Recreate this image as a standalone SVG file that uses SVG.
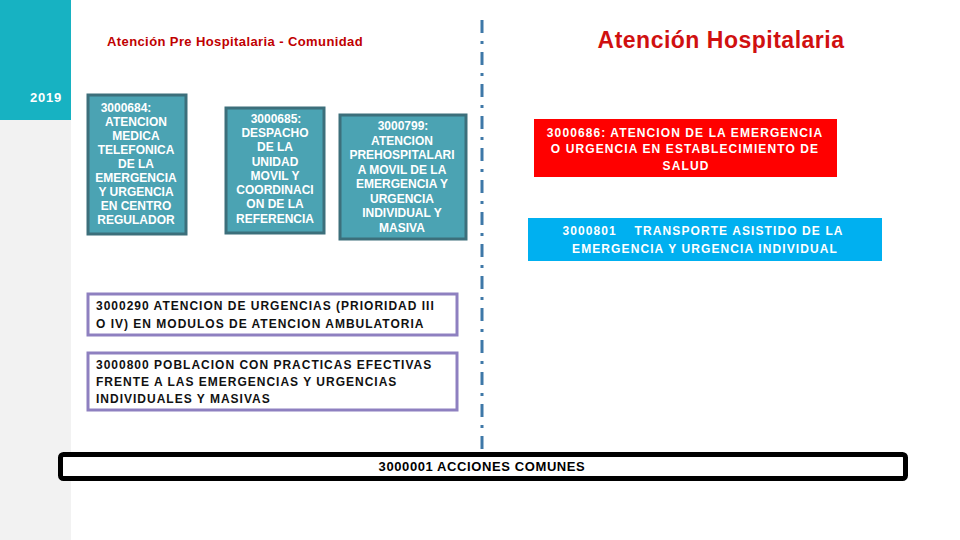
<svg xmlns="http://www.w3.org/2000/svg" width="960" height="540" viewBox="0 0 960 540">
<style>
text{font-family:"Liberation Sans",Arial,sans-serif;font-weight:bold}
.tb rect{fill:#4ba3b3;stroke:#3c6f7b;stroke-width:3}
.tb text{fill:#fff;font-size:12px;text-anchor:middle}
.pb rect{fill:#fff;stroke:#8e80c0;stroke-width:3}
.pb text{fill:#111;font-size:12px;letter-spacing:1px}
.wt{fill:#fff;font-size:12px;letter-spacing:1.1px;text-anchor:middle}
</style>
<rect width="960" height="540" fill="#fff"/>
<rect x="0" y="0" width="71" height="120" fill="#17b2c2"/>
<rect x="0" y="120" width="71" height="420" fill="#f2f2f2"/>
<text x="46" y="102" fill="#fff" font-size="13" letter-spacing="0.8" text-anchor="middle">2019</text>
<text x="107" y="46" fill="#c00000" font-size="13" letter-spacing="0.4">Atención Pre Hospitalaria - Comunidad</text>
<text x="721" y="48" fill="#d01010" font-size="23" letter-spacing="0.5" text-anchor="middle">Atención Hospitalaria</text>
<g id="connectors">
<line x1="482" y1="20" x2="482" y2="453" stroke="#3e78a8" stroke-width="3" stroke-dasharray="13 8 3 8"/>
</g>
<g id="n3000684" class="tb">
<rect x="88" y="95" width="98" height="139"/>
<text x="126" y="111.6">3000684:</text>
<text x="136" y="125.7">ATENCION</text>
<text x="136" y="139.8">MEDICA</text>
<text x="136" y="153.8">TELEFONICA</text>
<text x="136" y="167.9">DE LA</text>
<text x="136" y="182">EMERGENCIA</text>
<text x="136" y="196.1">Y URGENCIA</text>
<text x="136" y="210.2">EN CENTRO</text>
<text x="136" y="224.2">REGULADOR</text>
</g>
<g id="n3000685" class="tb">
<rect x="226" y="108" width="98" height="125"/>
<text x="276" y="122.6">3000685:</text>
<text x="275" y="136.9">DESPACHO</text>
<text x="275" y="151.2">DE LA</text>
<text x="275" y="165.5">UNIDAD</text>
<text x="275" y="179.8">MOVIL Y</text>
<text x="275" y="194.1">COORDINACI</text>
<text x="275" y="208.4">ON DE LA</text>
<text x="275" y="222.7">REFERENCIA</text>
</g>
<g id="n3000799" class="tb">
<rect x="340" y="115" width="126" height="124"/>
<text x="403" y="130">3000799:</text>
<text x="402" y="144.5">ATENCION</text>
<text x="402" y="159">PREHOSPITALARI</text>
<text x="402" y="173.5">A MOVIL DE LA</text>
<text x="402" y="188">EMERGENCIA Y</text>
<text x="402" y="202.5">URGENCIA</text>
<text x="402" y="217">INDIVIDUAL Y</text>
<text x="402" y="231.5">MASIVA</text>
</g>
<g id="n3000686">
<rect x="534" y="119" width="303" height="58" fill="#ff0000"/>
<text class="wt" x="685" y="136.6">3000686: ATENCION DE LA EMERGENCIA</text>
<text class="wt" x="685" y="153.3">O URGENCIA EN ESTABLECIMIENTO DE</text>
<text class="wt" x="686" y="170">SALUD</text>
</g>
<g id="n3000801">
<rect x="528" y="218" width="354" height="43" fill="#00b0f0"/>
<text class="wt" x="703" y="235.3" style="white-space:pre">3000801    TRANSPORTE ASISTIDO DE LA</text>
<text class="wt" x="705" y="252.6">EMERGENCIA Y URGENCIA INDIVIDUAL</text>
</g>
<g id="n3000290" class="pb">
<rect x="88" y="294" width="369" height="41"/>
<text x="96" y="310">3000290 ATENCION DE URGENCIAS (PRIORIDAD III</text>
<text x="96" y="327.6">O IV) EN MODULOS DE ATENCION AMBULATORIA</text>
</g>
<g id="n3000800" class="pb">
<rect x="88" y="353" width="369" height="57"/>
<text x="96" y="369.3">3000800 POBLACION CON PRACTICAS EFECTIVAS</text>
<text x="96" y="386">FRENTE A LAS EMERGENCIAS Y URGENCIAS</text>
<text x="96" y="402.6">INDIVIDUALES Y MASIVAS</text>
</g>
<g id="n3000001">
<rect x="60.5" y="454.5" width="845" height="24" rx="3" fill="#fff" stroke="#000" stroke-width="5"/>
<text x="482" y="471" fill="#000" font-size="13" letter-spacing="0.6" text-anchor="middle">3000001 ACCIONES COMUNES</text>
</g>
</svg>
